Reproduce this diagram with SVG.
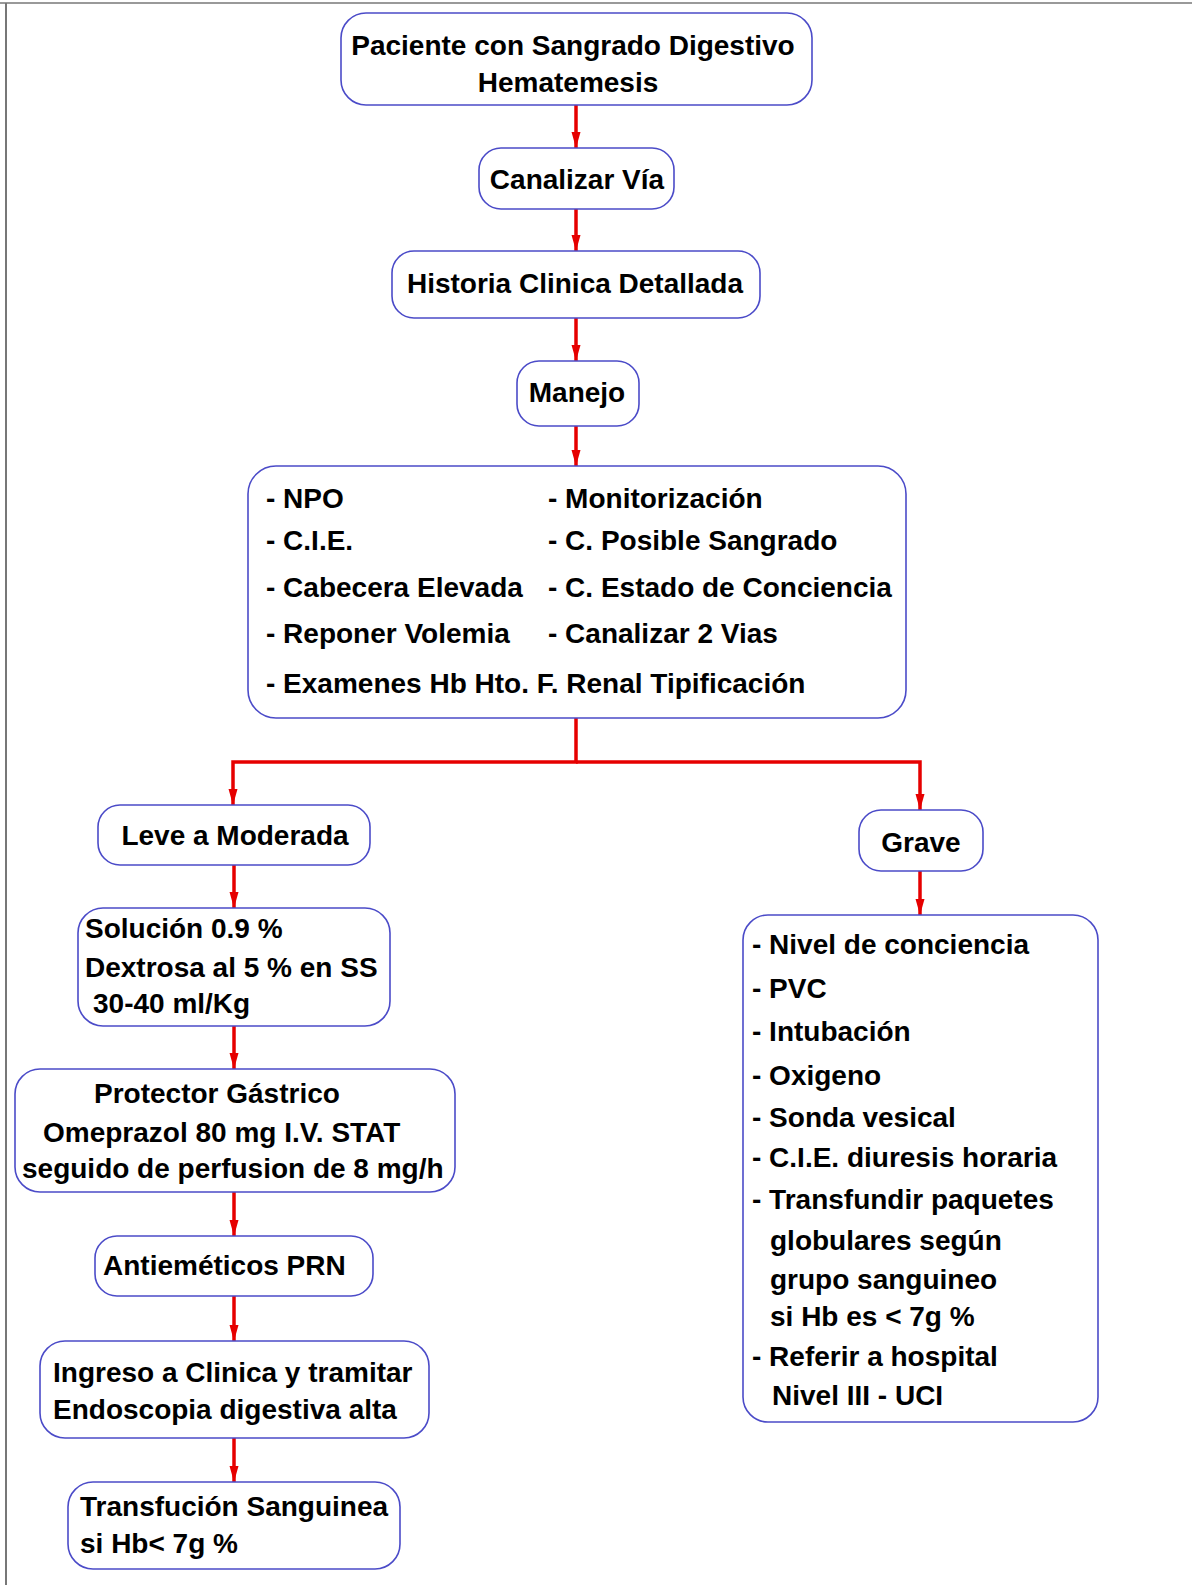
<svg xmlns="http://www.w3.org/2000/svg" width="1192" height="1585" viewBox="0 0 1192 1585">
<defs>
<style>
.box{fill:#fff;stroke:#4b4bc8;stroke-width:1.6}
.t{font-family:"Liberation Sans",Arial,sans-serif;font-weight:bold;font-size:28px;fill:#000}
.c{text-anchor:middle}
.e{fill:none;stroke:#e60000;stroke-width:3.5}
</style>
<marker id="ah" markerUnits="userSpaceOnUse" markerWidth="18" markerHeight="10" refX="16" refY="4.5" orient="auto">
<path d="M0,0 L16,4.5 L0,9 z" fill="#e60000"/>
</marker>
</defs>
<rect x="0" y="0" width="1192" height="1585" fill="#fff"/>
<line x1="0" y1="3" x2="1192" y2="3" stroke="#999" stroke-width="2"/>
<line x1="6" y1="3" x2="6" y2="1585" stroke="#777" stroke-width="2"/>

<g id="connectors">
<line class="e" x1="576" y1="105" x2="576" y2="148" marker-end="url(#ah)"/>
<line class="e" x1="576" y1="209" x2="576" y2="251" marker-end="url(#ah)"/>
<line class="e" x1="576" y1="318" x2="576" y2="361" marker-end="url(#ah)"/>
<line class="e" x1="576" y1="426" x2="576" y2="466" marker-end="url(#ah)"/>
<polyline class="e" points="576,718 576,762 233,762 233,805" marker-end="url(#ah)"/>
<polyline class="e" points="576,762 920,762 920,810" marker-end="url(#ah)"/>
<line class="e" x1="234" y1="865" x2="234" y2="908" marker-end="url(#ah)"/>
<line class="e" x1="920" y1="871" x2="920" y2="915" marker-end="url(#ah)"/>
<line class="e" x1="234" y1="1026" x2="234" y2="1069" marker-end="url(#ah)"/>
<line class="e" x1="234" y1="1192" x2="234" y2="1236" marker-end="url(#ah)"/>
<line class="e" x1="234" y1="1296" x2="234" y2="1341" marker-end="url(#ah)"/>
<line class="e" x1="234" y1="1438" x2="234" y2="1482" marker-end="url(#ah)"/>
</g>

<g id="paciente">
<rect class="box" x="341" y="13" width="471" height="92" rx="25"/>
<text class="t c" x="573" y="55">Paciente con Sangrado Digestivo</text>
<text class="t c" x="568" y="92">Hematemesis</text>
</g>

<g id="canalizar">
<rect class="box" x="479" y="148" width="195" height="61" rx="22"/>
<text class="t c" x="577" y="189">Canalizar Vía</text>
</g>

<g id="historia">
<rect class="box" x="392" y="251" width="368" height="67" rx="22"/>
<text class="t c" x="575" y="293">Historia Clinica Detallada</text>
</g>

<g id="manejo">
<rect class="box" x="517" y="361" width="122" height="65" rx="22"/>
<text class="t c" x="577" y="402">Manejo</text>
</g>

<g id="medidas">
<rect class="box" x="248" y="466" width="658" height="252" rx="28"/>
<text class="t" x="266" y="508">- NPO</text>
<text class="t" x="266" y="550">- C.I.E.</text>
<text class="t" x="266" y="597">- Cabecera Elevada</text>
<text class="t" x="266" y="643">- Reponer Volemia</text>
<text class="t" x="548" y="508">- Monitorización</text>
<text class="t" x="548" y="550">- C. Posible Sangrado</text>
<text class="t" x="548" y="597">- C. Estado de Conciencia</text>
<text class="t" x="548" y="643">- Canalizar 2 Vias</text>
<text class="t" x="266" y="693">- Examenes Hb Hto. F. Renal Tipificación</text>
</g>

<g id="leve">
<rect class="box" x="98" y="805" width="272" height="60" rx="22"/>
<text class="t c" x="235" y="845">Leve a Moderada</text>
</g>

<g id="grave">
<rect class="box" x="859" y="810" width="124" height="61" rx="22"/>
<text class="t c" x="921" y="852">Grave</text>
</g>

<g id="solucion">
<rect class="box" x="78" y="908" width="312" height="118" rx="25"/>
<text class="t" x="85" y="938">Solución 0.9 %</text>
<text class="t" x="85" y="977">Dextrosa al 5 % en SS</text>
<text class="t" x="93" y="1013">30-40 ml/Kg</text>
</g>

<g id="protector">
<rect class="box" x="15" y="1069" width="440" height="123" rx="25"/>
<text class="t" x="94" y="1103">Protector Gástrico</text>
<text class="t" x="43" y="1142">Omeprazol 80 mg I.V. STAT</text>
<text class="t" x="22" y="1178">seguido de perfusion de 8 mg/h</text>
</g>

<g id="antiemeticos">
<rect class="box" x="95" y="1236" width="278" height="60" rx="22"/>
<text class="t" x="103" y="1275">Antieméticos PRN</text>
</g>

<g id="ingreso">
<rect class="box" x="40" y="1341" width="389" height="97" rx="25"/>
<text class="t" x="53" y="1382">Ingreso a Clinica y tramitar</text>
<text class="t" x="53" y="1419">Endoscopia digestiva alta</text>
</g>

<g id="transfucion">
<rect class="box" x="68" y="1482" width="332" height="87" rx="25"/>
<text class="t" x="80" y="1516">Transfución Sanguinea</text>
<text class="t" x="80" y="1553">si Hb&lt; 7g %</text>
</g>

<g id="grave-medidas">
<rect class="box" x="743" y="915" width="355" height="507" rx="25"/>
<text class="t" x="752" y="954">- Nivel de conciencia</text>
<text class="t" x="752" y="998">- PVC</text>
<text class="t" x="752" y="1041">- Intubación</text>
<text class="t" x="752" y="1085">- Oxigeno</text>
<text class="t" x="752" y="1127">- Sonda vesical</text>
<text class="t" x="752" y="1167">- C.I.E. diuresis horaria</text>
<text class="t" x="752" y="1209">- Transfundir paquetes</text>
<text class="t" x="770" y="1250">globulares según</text>
<text class="t" x="770" y="1289">grupo sanguineo</text>
<text class="t" x="770" y="1326">si Hb es &lt; 7g %</text>
<text class="t" x="752" y="1366">- Referir a hospital</text>
<text class="t" x="772" y="1405">Nivel III - UCI</text>
</g>
</svg>
